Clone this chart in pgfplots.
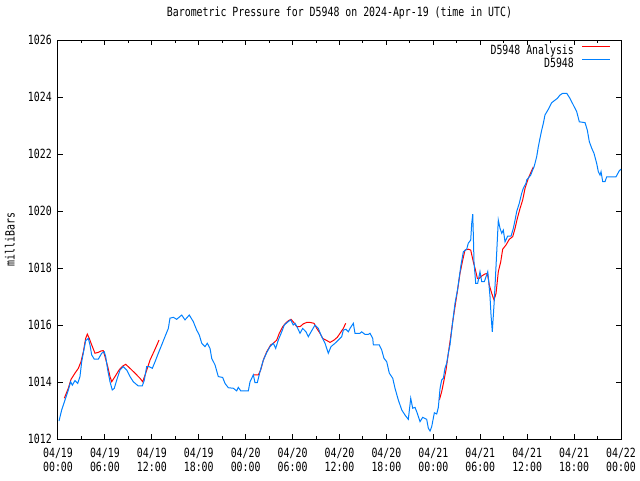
\documentclass[border=0pt]{standalone}
\usepackage{fontspec}
\newfontfamily\gdfont[FakeStretch=0.78]{DejaVu Sans Mono}
\usepackage{pgfplots}
\pgfplotsset{compat=1.18}
\definecolor{obsblue}{RGB}{0,128,255}
\definecolor{anared}{RGB}{255,0,0}
\begin{document}
\begin{tikzpicture}
\path[use as bounding box] (-43.5pt,-30.75pt) rectangle (436.5pt,329.25pt);
\begin{axis}[
  at={(0,0)}, anchor=south west,
  scale only axis, width=422.25pt, height=299.25pt,
  xmin=0, xmax=72, ymin=1012, ymax=1026,
  xtick={0,6,...,72},
  xticklabels={{04/19\\00:00},{04/19\\06:00},{04/19\\12:00},{04/19\\18:00},{04/20\\00:00},{04/20\\06:00},{04/20\\12:00},{04/20\\18:00},{04/21\\00:00},{04/21\\06:00},{04/21\\12:00},{04/21\\18:00},{04/22\\00:00}},
  minor x tick num=1,
  ytick={1012,1014,...,1026},
  scaled y ticks=false,
  /pgf/number format/1000 sep={},
  /pgf/number format/assume math mode=true,
  tick align=inside,
  major tick length=4pt, minor tick length=2.5pt,
  axis line style={line width=0.75pt},
  every tick/.style={black, line width=0.75pt},
  every minor tick/.style={black, line width=0.75pt},
  font=\gdfont\fontsize{9.5}{10.5}\selectfont,
  xticklabel style={align=center, anchor=north, inner sep=0pt, yshift=-6.5pt},
  yticklabel style={anchor=east, inner sep=0pt, xshift=-4.5pt},
  title={Barometric Pressure for D5948 on 2024-Apr-19 (time in UTC)},
  title style={at={(0.5,1)}, anchor=base, yshift=12pt, inner sep=0pt},
  ylabel={milliBars},
  ylabel style={at={(axis description cs:-0.0853,0.5)}, anchor=center, inner sep=0pt},
  legend style={at={(1,1)}, anchor=north east, xshift=-7.5pt, yshift=-4.3pt, draw=none, fill=none, inner sep=0pt, outer sep=0pt, row sep=1.25pt, column sep=6pt, nodes={inner sep=0pt, text height=6.5pt, text depth=2pt}},
  legend cell align=right,
  legend plot pos=right,
  legend image code/.code={\draw[#1, line width=0.85pt] (0pt,3.5pt) -- (21pt,3.5pt);},
]
\addplot[anared, line width=0.75pt] coordinates {
(0.81,1013.43) (1.32,1013.78) (1.66,1014.09) (2.17,1014.31) (2.60,1014.48) (2.94,1014.71)
(3.24,1015.06) (3.54,1015.53) (3.75,1015.68) (4.00,1015.53) (4.31,1015.30) (4.73,1015.01)
(5.15,1015.04) (5.50,1015.09) (5.79,1015.10) (6.01,1014.89) (6.36,1014.54) (6.65,1014.19)
(6.87,1014.01) (7.29,1014.19) (7.80,1014.42) (8.27,1014.56) (8.66,1014.62) (9.21,1014.48)
(9.85,1014.31) (10.49,1014.13) (10.83,1014.01) (11.22,1014.31) (11.77,1014.77) (12.41,1015.15)
(12.92,1015.47)
};
\addlegendentry{D5948 Analysis}
\addplot[anared, line width=0.75pt, forget plot] coordinates {
(24.98,1014.25) (25.62,1014.25) (25.92,1014.42) (26.26,1014.77) (26.69,1015.06) (27.20,1015.30)
(27.54,1015.36) (27.97,1015.47) (28.30,1015.71) (28.74,1015.94) (29.03,1016.04) (29.45,1016.15)
(29.80,1016.20) (30.18,1016.08) (30.53,1015.94) (30.95,1015.94) (31.37,1016.04) (31.81,1016.09)
(32.23,1016.09) (32.74,1016.06) (33.09,1015.88) (33.51,1015.71) (33.85,1015.53) (34.28,1015.47)
(34.79,1015.39) (35.30,1015.47) (35.72,1015.57) (36.07,1015.71) (36.49,1015.88) (36.79,1016.06)
};
\addplot[anared, line width=0.75pt, forget plot] coordinates {
(48.77,1013.37) (49.07,1013.66) (49.37,1014.07) (49.62,1014.42) (49.92,1015.01) (50.22,1015.59)
(50.48,1016.12) (50.77,1016.64) (51.07,1017.17) (51.41,1017.81) (51.76,1018.28) (52.05,1018.63)
(52.47,1018.66) (52.78,1018.63) (53.11,1018.22) (53.33,1017.99) (53.63,1017.64) (53.88,1017.64)
(54.19,1017.72) (54.61,1017.79) (54.91,1017.81) (55.16,1017.40) (55.47,1017.11) (55.76,1016.88)
(56.02,1017.11) (56.31,1017.87) (56.62,1018.22) (56.87,1018.66) (57.30,1018.81) (57.72,1019.01)
(58.15,1019.10) (58.45,1019.39) (58.74,1019.74) (59.09,1020.09) (59.43,1020.39) (59.73,1020.80)
(60.15,1021.15) (60.79,1021.55)
};
\addplot[obsblue, line width=0.75pt] coordinates {
(0.13,1012.63) (0.47,1013.02) (0.90,1013.37) (1.32,1013.72) (1.62,1014.01) (1.83,1013.89)
(2.17,1014.05) (2.52,1013.95) (2.81,1014.19) (3.03,1014.71) (3.24,1015.02) (3.54,1015.45)
(3.88,1015.53) (4.09,1015.30) (4.31,1014.95) (4.64,1014.80) (5.15,1014.80) (5.59,1015.01)
(5.92,1015.06) (6.10,1014.89) (6.36,1014.42) (6.65,1014.01) (6.94,1013.72) (7.20,1013.78)
(7.51,1014.07) (7.93,1014.42) (8.35,1014.54) (8.79,1014.42) (9.21,1014.19) (9.63,1014.01)
(10.27,1013.86) (10.78,1013.86) (11.04,1014.07) (11.34,1014.54) (11.64,1014.54) (12.06,1014.48)
(12.41,1014.71) (12.83,1015.01) (13.26,1015.30) (13.68,1015.59) (14.11,1015.88) (14.32,1016.24)
(14.75,1016.27) (15.18,1016.20) (15.82,1016.35) (16.24,1016.18) (16.79,1016.35) (17.30,1016.12)
(17.74,1015.82) (18.07,1015.65) (18.38,1015.36) (18.80,1015.24) (19.09,1015.36) (19.44,1015.18)
(19.66,1014.83) (20.08,1014.60) (20.50,1014.19) (21.06,1014.16) (21.36,1013.95) (21.78,1013.80)
(22.42,1013.78) (22.85,1013.69) (23.06,1013.81) (23.37,1013.69) (24.34,1013.69) (24.56,1014.01)
(24.98,1014.25) (25.19,1013.98) (25.49,1013.98) (25.83,1014.36) (26.26,1014.77) (26.69,1015.03)
(27.11,1015.24) (27.54,1015.36) (27.84,1015.18) (28.17,1015.47) (28.61,1015.76) (28.94,1016.00)
(29.45,1016.12) (29.76,1016.18) (30.09,1016.00) (30.31,1016.06) (30.53,1015.96) (30.95,1015.71)
(31.29,1015.88) (31.72,1015.76) (32.01,1015.59) (32.36,1015.76) (32.87,1016.00) (33.29,1015.88)
(33.72,1015.59) (34.15,1015.36) (34.57,1015.01) (34.91,1015.24) (35.43,1015.36) (35.85,1015.47)
(36.28,1015.59) (36.49,1015.82) (36.83,1015.85) (37.13,1015.76) (37.34,1015.88) (37.77,1016.06)
(37.98,1015.71) (38.62,1015.71) (38.84,1015.76) (39.26,1015.67) (39.69,1015.67) (39.90,1015.71)
(40.25,1015.53) (40.33,1015.30) (41.09,1015.30) (41.40,1015.12) (41.69,1014.83) (42.04,1014.71)
(42.37,1014.31) (42.81,1014.13) (43.10,1013.78) (43.52,1013.37) (43.96,1013.02) (44.38,1012.84)
(44.80,1012.69) (45.11,1013.43) (45.36,1013.08) (45.66,1013.11) (45.95,1012.90) (46.30,1012.61)
(46.64,1012.76) (47.15,1012.69) (47.36,1012.38) (47.58,1012.28) (47.79,1012.43) (48.13,1012.92)
(48.43,1012.88) (48.64,1013.11) (48.86,1013.78) (49.07,1014.07) (49.28,1014.13) (49.49,1014.48)
(49.71,1014.66) (49.92,1015.01) (50.13,1015.30) (50.35,1015.82) (50.77,1016.76) (51.09,1017.23)
(51.54,1018.11) (51.84,1018.57) (52.27,1018.66) (52.47,1018.87) (52.78,1018.98) (52.91,1019.57)
(53.04,1019.89) (53.11,1019.22) (53.20,1018.22) (53.42,1017.46) (53.67,1017.46) (53.97,1017.87)
(54.19,1017.52) (54.52,1017.52) (54.96,1017.87) (55.03,1017.69) (55.25,1016.99) (55.38,1016.35)
(55.54,1015.76) (55.80,1016.88) (56.11,1018.57) (56.31,1019.68) (56.53,1019.39) (56.75,1019.22)
(56.95,1019.33) (57.17,1018.92) (57.51,1019.12) (57.94,1019.12) (58.23,1019.39) (58.45,1019.68)
(58.66,1019.98) (58.99,1020.27) (59.30,1020.62) (59.51,1020.80) (59.85,1020.97) (59.94,1021.09)
(60.28,1021.20) (60.45,1021.26) (60.71,1021.44) (60.88,1021.55) (61.00,1021.67) (61.22,1021.91)
(61.43,1022.26) (61.64,1022.55) (61.86,1022.84) (62.07,1023.08) (62.28,1023.37) (62.71,1023.57)
(63.14,1023.80) (63.56,1023.89) (63.86,1023.95) (64.20,1024.07) (64.55,1024.13) (65.06,1024.13)
(65.48,1023.95) (65.90,1023.72) (66.34,1023.48) (66.67,1023.13) (67.40,1023.10) (67.69,1022.84)
(67.95,1022.43) (68.26,1022.20) (68.55,1022.02) (68.89,1021.67) (69.10,1021.38) (69.32,1021.26)
(69.45,1021.38) (69.66,1021.03) (69.96,1021.03) (70.17,1021.20) (71.36,1021.20) (71.78,1021.41)
(72.00,1021.47)
};
\addlegendentry{D5948}
\end{axis}
\end{tikzpicture}
\end{document}
